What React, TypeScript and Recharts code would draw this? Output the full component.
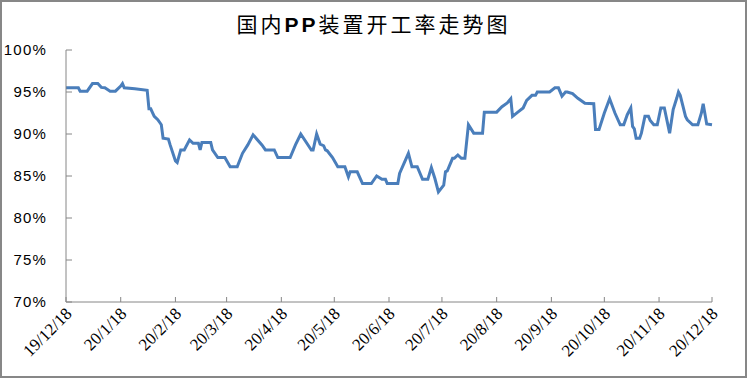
import React from 'react';
import { LineChart, Line, XAxis, YAxis } from 'recharts';

// Day offsets from 2019-12-18 and operating rate (%)
const dayOffsets = [
  0, 7, 8, 12, 15, 18, 20, 22, 25, 28, 31, 32, 33, 39, 46, 47, 48, 50, 52, 54,
  55, 58, 59, 62, 63, 65, 67, 70, 72, 75, 76, 77, 82, 83, 86, 90, 93, 97, 100, 103,
  106, 111, 113, 118, 120, 127, 130, 133, 139, 140, 142, 144, 146, 147, 148, 151, 154, 158, 160, 161,
  165, 168, 173, 176, 179, 181, 182, 188, 189, 194, 196, 199, 202, 205, 207, 209, 211, 214, 215, 216,
  219, 220, 222, 224, 226, 228, 231, 236, 237, 244, 247, 250, 252, 253, 256, 259, 261, 264, 266, 267,
  274, 277, 279, 281, 283, 284, 287, 290, 294, 299, 300, 302, 305, 308, 311, 314, 316, 318, 320, 321,
  322, 323, 325, 326, 328, 330, 331, 333, 335, 337, 339, 342, 344, 346, 347, 348, 351, 352, 355, 358,
  360, 361, 363, 366,
];
const rates = [
  95.5, 95.5, 95.1, 95.1, 96.0, 96.0, 95.55, 95.5, 95.1, 95.1, 95.7, 96.0, 95.5, 95.4, 95.2, 93.0, 93.0, 92.1, 91.7, 91.1,
  89.5, 89.4, 88.7, 86.8, 86.6, 88.1, 88.1, 89.3, 88.9, 88.9, 88.1, 89.0, 89.0, 88.1, 87.2, 87.2, 86.1, 86.1, 87.7, 88.7,
  89.9, 88.7, 88.1, 88.1, 87.2, 87.2, 88.7, 90.0, 88.1, 88.1, 90.0, 88.8, 88.6, 88.1, 88.0, 87.2, 86.1, 86.1, 84.9, 85.5,
  85.5, 84.1, 84.1, 85.0, 84.6, 84.6, 84.1, 84.1, 85.3, 87.7, 86.1, 86.1, 84.6, 84.6, 86.0, 84.7, 83.1, 83.9, 85.5, 85.6,
  87.1, 87.1, 87.5, 87.1, 87.1, 91.1, 90.1, 90.1, 92.6, 92.6, 93.25, 93.7, 94.2, 92.1, 92.6, 93.1, 94.0, 94.6, 94.6, 95.0,
  95.0, 95.5, 95.5, 94.5, 95.0, 95.0, 94.8, 94.25, 93.65, 93.6, 90.55, 90.55, 92.5, 94.2, 92.5, 91.1, 91.1, 92.3, 93.1, 90.9,
  90.6, 89.5, 89.5, 90.1, 92.1, 92.1, 91.6, 91.1, 91.1, 93.1, 93.1, 90.1, 92.9, 94.25, 95.0, 94.6, 92.1, 91.7, 91.1, 91.1,
  92.5, 93.6, 91.2, 91.1,
];

const monthTickDays = [0, 31, 62, 91, 122, 152, 183, 213, 244, 275, 305, 336, 366];
const monthTickLabels = [
  '19/12/18', '20/1/18', '20/2/18', '20/3/18', '20/4/18', '20/5/18', '20/6/18',
  '20/7/18', '20/8/18', '20/9/18', '20/10/18', '20/11/18', '20/12/18',
];
const yTicks = [70, 75, 80, 85, 90, 95, 100];

const chartTitle = '国内PP装置开工率走势图';

const data = dayOffsets.map((d, i) => ({ day: d, rate: rates[i] }));

const AXIS_COLOR = '#868686';

const XTick = (props: any) => {
  const { x, y, payload } = props;
  const idx = monthTickDays.indexOf(payload.value);
  const label = idx >= 0 ? monthTickLabels[idx] : '';
  const axisY = y - 8;
  return (
    <g>
      <line x1={x} y1={axisY} x2={x} y2={axisY - 5} stroke={AXIS_COLOR} strokeWidth={1} />
      <text
        x={x + 4}
        y={y + 2}
        dy={4}
        textAnchor="end"
        transform={`rotate(-45 ${x + 4} ${y + 2})`}
        fontFamily="'Liberation Serif', 'Times New Roman', serif"
        fontSize={17}
        fill="#000"
      >
        {label}
      </text>
    </g>
  );
};

const YTick = (props: any) => {
  const { x, y, payload } = props;
  const axisX = x + 19;
  return (
    <g>
      <line x1={axisX} y1={y} x2={axisX + 6} y2={y} stroke={AXIS_COLOR} strokeWidth={1} />
      <text
        x={x}
        y={y}
        dy={5}
        textAnchor="end"
        fontFamily="'Liberation Sans', Arial, sans-serif"
        fontSize={15}
        letterSpacing={1.2}
        fill="#000"
      >
        {`${payload.value}%`}
      </text>
    </g>
  );
};

export default function App() {
  return (
    <div style={{ position: 'absolute', left: 0, top: 0, width: 747, height: 378, background: '#fff' }}>
      <div
        style={{
          position: 'absolute',
          left: 0,
          top: 10,
          width: 747,
          textAlign: 'center',
          fontFamily: "'Noto Sans CJK SC', sans-serif",
          fontSize: 21,
          letterSpacing: 3,
          color: '#000',
          lineHeight: '26px',
        }}
      >
        {chartTitle.split(/(PP)/).map((part, i) =>
          part === 'PP' ? (
            <span key={i} style={{ fontFamily: "'Liberation Sans', Arial, sans-serif", fontWeight: 'bold' }}>
              {part}
            </span>
          ) : (
            <span key={i}>{part}</span>
          )
        )}
      </div>
      <div style={{ position: 'absolute', left: 0, top: 0 }}>
        <LineChart width={747} height={378} data={data} margin={{ top: 50, right: 35, bottom: 0, left: 0 }}>
          <XAxis
            dataKey="day"
            type="number"
            domain={[0, 366]}
            ticks={monthTickDays}
            interval={0}
            height={76}
            tickSize={5}
            tickMargin={3}
            tickLine={false}
            axisLine={{ stroke: AXIS_COLOR, strokeWidth: 1 }}
            tick={<XTick />}
          />
          <YAxis
            type="number"
            domain={[70, 100]}
            ticks={yTicks}
            interval={0}
            width={66}
            tickSize={6}
            tickMargin={13}
            tickLine={false}
            axisLine={{ stroke: AXIS_COLOR, strokeWidth: 1 }}
            tick={<YTick />}
          />
          <Line
            dataKey="rate"
            type="linear"
            stroke="#4a7ebb"
            strokeWidth={3}
            dot={false}
            isAnimationActive={false}
          />
        </LineChart>
      </div>
      <div
        style={{
          position: 'absolute',
          left: 0,
          top: 0,
          width: 747,
          height: 378,
          boxSizing: 'border-box',
          border: '2px solid #878787',
          pointerEvents: 'none',
        }}
      />
    </div>
  );
}
